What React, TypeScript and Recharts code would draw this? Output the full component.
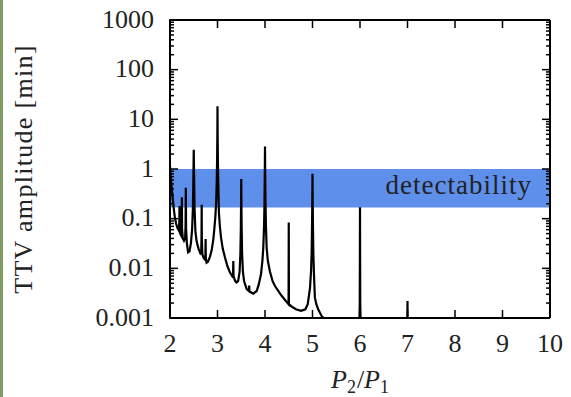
import { LineChart, Line, XAxis, YAxis, ReferenceArea } from "recharts";

// period ratio P2/P1 and the TTV amplitude in minutes
const ratio = [
  2.0, 2.01, 2.02, 2.04, 2.06, 2.08, 2.1, 2.13, 2.16, 2.185,
  2.196, 2.2, 2.204, 2.215, 2.235, 2.246, 2.25, 2.254, 2.27, 2.295,
  2.318, 2.328, 2.333, 2.338, 2.355, 2.38, 2.41, 2.44, 2.465, 2.482,
  2.493, 2.5, 2.507, 2.518, 2.535, 2.56, 2.6, 2.64, 2.658, 2.664,
  2.667, 2.67, 2.682, 2.71, 2.738, 2.746, 2.75, 2.754, 2.77, 2.8,
  2.84, 2.877, 2.91, 2.93, 2.955, 2.972, 2.984, 2.992, 2.997, 3.0,
  3.003, 3.008, 3.016, 3.03, 3.05, 3.074, 3.11, 3.158, 3.21, 3.263,
  3.31, 3.328, 3.333, 3.338, 3.37, 3.4, 3.435, 3.465, 3.482, 3.492,
  3.498, 3.5, 3.502, 3.508, 3.518, 3.535, 3.56, 3.615, 3.66, 3.667,
  3.672, 3.754, 3.825, 3.87, 3.916, 3.945, 3.964, 3.98, 3.99, 3.996,
  4.0, 4.004, 4.01, 4.02, 4.035, 4.06, 4.105, 4.16, 4.21, 4.35,
  4.44, 4.496, 4.5, 4.504, 4.56, 4.65, 4.76, 4.85, 4.9, 4.947,
  4.97, 4.982, 4.991, 4.997, 5.0, 5.003, 5.009, 5.018, 5.03, 5.05,
  5.08, 5.12, 5.19, 5.26, 5.4, 5.7, 5.98, 5.995, 6.0, 6.005,
  6.02, 6.5, 6.99, 6.997, 7.0, 7.003, 7.01, 8.0, 9.0, 10.0,
];

const ttv = [
  1.15, 0.85, 0.6, 0.38, 0.24, 0.16, 0.11, 0.078, 0.064, 0.058,
  0.085, 0.18, 0.07, 0.05, 0.046, 0.075, 0.27, 0.06, 0.04, 0.036,
  0.04, 0.075, 0.42, 0.065, 0.032, 0.021, 0.022, 0.032, 0.06, 0.16,
  0.7, 2.45, 0.7, 0.15, 0.055, 0.035, 0.025, 0.02, 0.021, 0.045,
  0.19, 0.04, 0.019, 0.016, 0.015, 0.019, 0.039, 0.016, 0.013, 0.0135,
  0.017, 0.023, 0.037, 0.057, 0.11, 0.22, 0.55, 1.6, 5, 18.3,
  5, 1.6, 0.55, 0.13, 0.07, 0.042, 0.025, 0.0165, 0.011, 0.0082,
  0.007, 0.0075, 0.0141, 0.007, 0.0056, 0.0052, 0.0056, 0.0085, 0.02, 0.07,
  0.3, 0.63, 0.3, 0.07, 0.02, 0.0085, 0.0055, 0.0038, 0.0035, 0.0045,
  0.0034, 0.0031, 0.0035, 0.0048, 0.0077, 0.014, 0.026, 0.07, 0.22, 0.8,
  2.85, 0.8, 0.22, 0.07, 0.026, 0.014, 0.0085, 0.0055, 0.0044, 0.0028,
  0.0022, 0.0019, 0.084, 0.0019, 0.0017, 0.0015, 0.0014, 0.0015, 0.0019, 0.004,
  0.009, 0.02, 0.08, 0.3, 0.8, 0.3, 0.08, 0.02, 0.008, 0.0026,
  0.0019, 0.0015, 0.0011, 0.00095, 0.0006, 0.0004, 0.0004, 0.002, 0.17, 0.002,
  0.0004, 0.0003, 0.0003, 0.0008, 0.0022, 0.0008, 0.0003, 0.0002, 0.00015, 0.0001,
];

const xTicks = [2, 3, 4, 5, 6, 7, 8, 9, 10];
const yMajorTicks = [0.001, 0.01, 0.1, 1, 10, 100, 1000];
const yMinorTicks = yMajorTicks
  .slice(0, -1)
  .flatMap((d) => [2, 3, 4, 5, 6, 7, 8, 9].map((m) => m * d));

// detectability band (minutes)
const detectLow = 0.167;
const detectHigh = 1;

const data = ratio.map((p, i) => ({ p, ttv: ttv[i] }));

const FONT = "'Liberation Serif', 'DejaVu Serif', serif";
const INK = "#222";
const tickLine = { stroke: "#000", strokeWidth: 1.5 };
const axisLine = { stroke: "#000", strokeWidth: 2 };
const noLabel = () => <g />;

function LeftLabel({ x, y, payload }: any) {
  return (
    <text x={x - 16} y={y} dy="0.3em" textAnchor="end" style={{ fontFamily: FONT }} fontSize={26} fill={INK}>
      {payload.value}
    </text>
  );
}

function BottomLabel({ x, y, payload }: any) {
  return (
    <text x={x} y={y + 34} textAnchor="middle" style={{ fontFamily: FONT }} fontSize={26} fill={INK}>
      {payload.value}
    </text>
  );
}

function XTitle({ viewBox }: any) {
  const cx = viewBox.x + viewBox.width / 2;
  return (
    <text x={cx} y={viewBox.y + 70} textAnchor="middle" style={{ fontFamily: FONT }} fontSize={26} fill={INK}>
      <tspan fontStyle="italic">P</tspan>
      <tspan fontSize={18} dy={5}>2</tspan>
      <tspan dy={-5} dx={1}>/</tspan>
      <tspan fontStyle="italic">P</tspan>
      <tspan fontSize={18} dy={5}>1</tspan>
    </text>
  );
}

function YTitle({ viewBox }: any) {
  const cy = viewBox.y + viewBox.height / 2;
  return (
    <text
      x={32}
      y={cy}
      transform={`rotate(-90, 32, ${cy})`}
      textAnchor="middle"
      style={{ fontFamily: FONT }}
      fontSize={26}
      letterSpacing={1.3}
      fill={INK}
    >
      TTV amplitude [min]
    </text>
  );
}

function BandLabel({ viewBox }: any) {
  return (
    <text
      x={viewBox.x + viewBox.width - 18}
      y={viewBox.y + viewBox.height / 2 + 6}
      textAnchor="end"
      style={{ fontFamily: FONT }}
      fontSize={27}
      letterSpacing={1}
      fill={INK}
    >
      detectability
    </text>
  );
}

// shared props for the log-scale y axes (left/right, major/minor)
const logAxis = {
  type: "number" as const,
  scale: "log" as const,
  domain: [0.001, 1000],
  interval: 0,
  allowDataOverflow: true,
  width: 1,
  tickLine,
};

const linAxis = {
  dataKey: "p",
  type: "number" as const,
  domain: [2, 10],
  ticks: xTicks,
  interval: 0,
  allowDataOverflow: true,
  axisLine,
  tickLine,
  tickSize: -8,
  tickMargin: 8,
};

const hidden = {
  dataKey: "ttv",
  stroke: "none",
  dot: false,
  activeDot: false,
  isAnimationActive: false,
};

export default function App() {
  return (
    <div style={{ position: "absolute", left: 0, top: 0, width: 571, height: 397, background: "#fff" }}>
      <div style={{ position: "absolute", left: 0, top: 0, width: 3, height: 397, background: "#7e9c60" }} />
      <LineChart width={571} height={397} data={data} margin={{ top: 19, right: 19, bottom: 29, left: 109 }}>
        <XAxis {...linAxis} height={50} tick={<BottomLabel />} label={<XTitle />} />
        <XAxis {...linAxis} xAxisId="top" orientation="top" height={1} tick={noLabel} />
        {/* minor ticks sit on the default axis (id 0) so it is placed next to the plot */}
        <YAxis {...logAxis} ticks={yMinorTicks} tickSize={-4} axisLine={axisLine} tick={noLabel} />
        <YAxis
          {...logAxis}
          yAxisId="left"
          width={60}
          ticks={yMajorTicks}
          tickSize={-9}
          tickMargin={8}
          axisLine={false}
          tick={<LeftLabel />}
          label={<YTitle />}
        />
        <YAxis
          {...logAxis}
          yAxisId="right"
          orientation="right"
          ticks={yMajorTicks}
          tickSize={-8}
          axisLine={axisLine}
          tick={noLabel}
        />
        <YAxis
          {...logAxis}
          yAxisId="rightMinor"
          orientation="right"
          ticks={yMinorTicks}
          tickSize={-5}
          axisLine={false}
          tick={noLabel}
        />
        <ReferenceArea
          x1={2}
          x2={10}
          y1={detectLow}
          y2={detectHigh}
          fill="#5e8feb"
          fillOpacity={1}
          stroke="none"
          label={<BandLabel />}
        />
        <Line
          dataKey="ttv"
          type="linear"
          stroke="#000"
          strokeWidth={2.2}
          dot={false}
          activeDot={false}
          isAnimationActive={false}
        />
        <Line {...hidden} yAxisId="left" />
        <Line {...hidden} xAxisId="top" yAxisId="right" />
        <Line {...hidden} yAxisId="rightMinor" />
      </LineChart>
    </div>
  );
}
